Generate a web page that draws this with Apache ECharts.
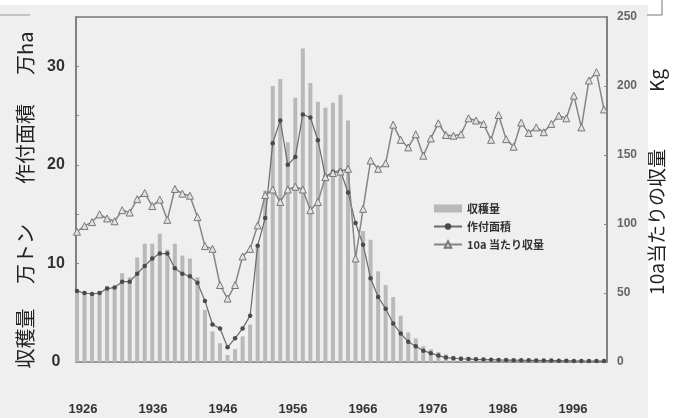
<!DOCTYPE html>
<html><head><meta charset="utf-8">
<script src="https://cdn.jsdelivr.net/npm/echarts@6/dist/echarts.min.js"></script>
<style>
html,body{margin:0;padding:0;background:#fff}
#c{width:680px;height:418px;background:linear-gradient(#fff,#fff) 0 0/680px 5px no-repeat,linear-gradient(#fff,#fff) 648px 0/32px 418px no-repeat,#efefef;}
</style></head><body><div id="c"></div>
<script>
const years = [1926,1927,1928,1929,1930,1931,1932,1933,1934,1935,
  1936,1937,1938,1939,1940,1941,1942,1943,1944,1945,
  1946,1947,1948,1949,1950,1951,1952,1953,1954,1955,
  1956,1957,1958,1959,1960,1961,1962,1963,1964,1965,
  1966,1967,1968,1969,1970,1971,1972,1973,1974,1975,
  1976,1977,1978,1979,1980,1981,1982,1983,1984,1985,
  1986,1987,1988,1989,1990,1991,1992,1993,1994,1995,
  1996];
// 収穫量 (万トン)
const production = [7.1,7.0,6.9,7.2,7.7,7.6,9.0,8.6,10.6,12.0,
  12.0,13.0,11.4,12.0,10.8,10.5,8.6,5.3,3.1,1.9,
  0.7,1.3,2.6,3.8,11.9,17.4,28.0,28.7,22.3,26.8,
  31.8,28.3,26.4,25.8,26.3,27.1,24.5,10.6,13.3,12.4,
  9.2,7.8,6.6,4.7,3.0,2.4,1.6,1.3,1.0,0.75,
  0.62,0.55,0.5,0.45,0.42,0.38,0.36,0.32,0.3,0.3,
  0.28,0.26,0.24,0.23,0.22,0.2,0.2,0.17,0.19,0.18,
  0.16];
// 作付面積 (万ha)
const area = [7.2,7.0,6.9,7.0,7.45,7.55,8.15,8.15,8.95,9.75,
  10.5,11.0,11.0,9.5,8.95,8.7,8.05,6.2,3.8,3.4,
  1.5,2.4,3.4,4.7,11.8,14.6,22.2,24.5,20.0,20.8,
  25.1,24.8,22.5,18.8,19.3,19.4,17.2,14.1,11.9,8.5,
  6.6,5.4,3.9,2.9,2.05,1.6,1.15,0.9,0.65,0.45,
  0.38,0.33,0.3,0.27,0.25,0.23,0.21,0.2,0.19,0.18,
  0.17,0.16,0.15,0.14,0.13,0.12,0.11,0.1,0.1,0.09,
  0.09];
// 10a当たり収量 (kg)
const yieldPer10a = [94.4,98.6,101.4,107,104,102,110,108.3,118,122.5,
  113,117.7,103,125.4,122,120.5,105,84,82,55.8,
  46,55.8,76.5,82,99,121,125,116,125,127,
  125,110,116,134,137,138,140,75,111,146,
  140,144,172,161,155.5,165,149.5,162,173,164.5,
  164,165,176.6,175,172.5,161,179,161.5,156,173.5,
  166,170,166.5,172.5,178.5,176.6,193,170,204,210,
  183];
const xTickLabels = [1926,1936,1946,1956,1966,1976,1986,1996];
const seriesNames = ['収穫量','作付面積','10a 当たり収量'];
const leftTitle = '収穫量\u3000 万トン\u3000\u3000作付面積\u3000  万ha';
const rightTitle = '10a当たりの収量\u3000\u3000\u3000Kg';

const chart = echarts.init(document.getElementById('c'), null, {renderer:'canvas'});
const numFont = '"Liberation Sans", Arial, sans-serif';
const jpFont = '"Noto Sans CJK JP", sans-serif';
chart.setOption({
  animation:false,
  backgroundColor:'transparent',
  grid:{left:76,right:73,top:17,bottom:56,show:true,borderColor:'#7a7a7a',borderWidth:1.5,backgroundColor:'transparent'},
  legend:{
    orient:'vertical',left:428,top:197,itemWidth:28,itemHeight:8,itemGap:5,
    textStyle:{fontSize:11,fontWeight:'bold',color:'#333',fontFamily:jpFont,lineHeight:13},
    data:[{name:seriesNames[0],icon:'rect'},{name:seriesNames[1]},{name:seriesNames[2]}]
  },
  xAxis:[
    {type:'value',min:1925.87,max:1996.4,show:false},
    {type:'value',min:1925,max:2000.857,position:'bottom',
     axisLine:{show:false},axisTick:{show:false},splitLine:{show:false},
     axisLabel:{customValues:xTickLabels,margin:41,fontSize:13,fontWeight:'bold',color:'#333',fontFamily:numFont,
       formatter:v=>String(v)}}
  ],
  yAxis:[
    {type:'value',min:0,max:35,interval:5,position:'left',
     axisLine:{show:true,lineStyle:{color:'#7a7a7a',width:1.5}},
     axisTick:{show:true,inside:true,length:3,lineStyle:{color:'#888'}},
     splitLine:{show:false},
     axisLabel:{margin:20,align:'center',fontSize:16,fontWeight:'bold',color:'#333',fontFamily:numFont,
       formatter:v=> (v%10===0? String(v):'')}},
    {type:'value',min:0,max:250,interval:50,position:'right',
     axisLine:{show:true,lineStyle:{color:'#7a7a7a',width:1.5}},
     axisTick:{show:true,inside:true,length:3,lineStyle:{color:'#888'}},
     splitLine:{show:false},
     axisLabel:{margin:10,fontSize:12,fontWeight:'bold',color:'#666',fontFamily:numFont}}
  ],
  series:[
    {name:seriesNames[0],type:'bar',xAxisIndex:0,yAxisIndex:0,barWidth:4,
     itemStyle:{color:'#b9b9b9'},
     data:years.map((y,i)=>[y,production[i]])},
    {name:seriesNames[1],type:'line',xAxisIndex:0,yAxisIndex:0,
     symbol:'circle',symbolSize:4.5,
     lineStyle:{color:'#6a6a6a',width:1.2},itemStyle:{color:'#4a4a4a'},
     data:years.map((y,i)=>[y,area[i]])},
    {name:seriesNames[2],type:'line',xAxisIndex:0,yAxisIndex:1,
     symbol:'triangle',symbolSize:7,
     lineStyle:{color:'#858585',width:1.5},itemStyle:{color:'#e2e2e2',borderColor:'#777',borderWidth:1},
     data:years.map((y,i)=>[y,yieldPer10a[i]])}
  ],
  graphic:[
    {type:'text',x:25,y:200,rotation:Math.PI/2,z:10,
     style:{text:leftTitle,fontSize:20,fontFamily:jpFont,fill:'#222',align:'center',verticalAlign:'middle'}},
    {type:'text',x:657,y:182,rotation:Math.PI/2,z:10,
     style:{text:rightTitle,fontSize:19,fontFamily:jpFont,fill:'#222',align:'center',verticalAlign:'middle'}},
    {type:'line',shape:{x1:0,y1:15,x2:30,y2:15},style:{stroke:'#999',lineWidth:1}},
    {type:'line',shape:{x1:647,y1:15,x2:662,y2:15},style:{stroke:'#777',lineWidth:1}},
    {type:'line',shape:{x1:662,y1:0,x2:662,y2:15},style:{stroke:'#777',lineWidth:1}}
  ]
});
</script></body></html>
